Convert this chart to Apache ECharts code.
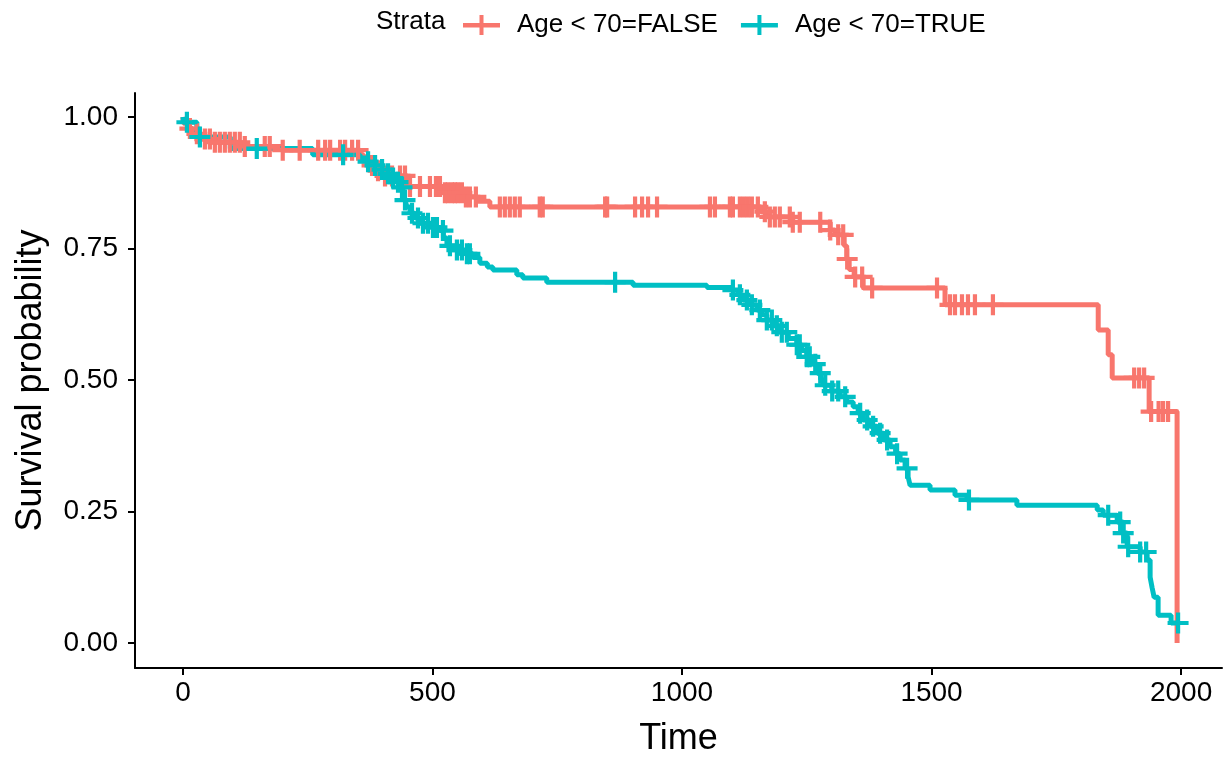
<!DOCTYPE html>
<html>
<head>
<meta charset="utf-8">
<script src="https://cdn.jsdelivr.net/npm/echarts@6/dist/echarts.min.js"></script>
<style>
  html, body { margin: 0; padding: 0; background: #ffffff; }
  #chart { width: 1226px; height: 757px; }
</style>
</head>
<body>
<div id="chart"></div>
<script>
// Kaplan-Meier estimates by stratum: [time, survival] at each step.
const stepsFalse = [
  [0, 1.0], [1, 0.988], [10, 0.978], [20, 0.968], [35, 0.958], [55, 0.952],
  [115, 0.944], [200, 0.937], [355, 0.928], [362, 0.918], [370, 0.908],
  [380, 0.898], [400, 0.888], [450, 0.868], [520, 0.856], [560, 0.848],
  [590, 0.84], [615, 0.829], [1158, 0.82], [1172, 0.81], [1222, 0.80],
  [1297, 0.785], [1307, 0.776], [1325, 0.755], [1330, 0.73], [1335, 0.71],
  [1345, 0.696], [1363, 0.675], [1527, 0.643], [1834, 0.595], [1854, 0.548],
  [1862, 0.504], [1936, 0.44], [1992, 0.0]
];
const stepsTrue = [
  [0, 1.0], [1, 0.99], [28, 0.962], [95, 0.94], [260, 0.928], [355, 0.922],
  [368, 0.915], [380, 0.908], [395, 0.9], [408, 0.892], [418, 0.884],
  [428, 0.876], [436, 0.866], [441, 0.856], [445, 0.842], [449, 0.829],
  [455, 0.817], [465, 0.808], [475, 0.798], [500, 0.79], [515, 0.784],
  [522, 0.77], [529, 0.755], [549, 0.747], [565, 0.74], [581, 0.733],
  [595, 0.722], [610, 0.715], [621, 0.709], [669, 0.70], [681, 0.694],
  [729, 0.686], [902, 0.68], [1050, 0.676], [1100, 0.671], [1112, 0.662],
  [1122, 0.652], [1136, 0.643], [1150, 0.633], [1160, 0.624], [1170, 0.614],
  [1183, 0.603], [1196, 0.591], [1213, 0.579], [1230, 0.567], [1240, 0.556],
  [1250, 0.544], [1262, 0.53], [1271, 0.513], [1278, 0.501], [1283, 0.49],
  [1300, 0.479], [1317, 0.468], [1330, 0.458], [1343, 0.449], [1353, 0.437],
  [1363, 0.424], [1377, 0.412], [1391, 0.399], [1404, 0.386], [1417, 0.373],
  [1428, 0.36], [1437, 0.348], [1447, 0.332], [1453, 0.316], [1457, 0.30],
  [1497, 0.291], [1547, 0.281], [1571, 0.272], [1671, 0.262], [1832, 0.253],
  [1844, 0.243], [1872, 0.23], [1884, 0.209], [1892, 0.183], [1918, 0.173],
  [1932, 0.158], [1938, 0.125], [1942, 0.105], [1946, 0.087], [1954, 0.053],
  [1980, 0.038], [1996, 0.038]
];

// Censoring times for each stratum.
const censorFalse = [
  14, 28, 44, 54, 64, 74, 84, 94, 104, 114, 124, 164, 174, 200, 234, 271, 285,
  295, 315, 325, 339, 351, 379, 391, 405, 419, 435, 445, 455, 475, 495, 507,
  515, 525, 531, 539, 545, 551, 559, 567, 575, 587, 635, 645, 655, 665, 675,
  715, 721, 846, 850, 906, 920, 932, 950, 1056, 1066, 1096, 1102, 1116, 1124,
  1132, 1140, 1152, 1166, 1176, 1186, 1196, 1216, 1222, 1236, 1277, 1297, 1313,
  1323, 1331, 1347, 1361, 1381, 1511, 1537, 1547, 1561, 1573, 1587, 1623,
  1906, 1916, 1926, 1940, 1955, 1964, 1974
];
const censorTrue = [
  8, 34, 148, 321, 371, 385, 399, 411, 421, 431, 439, 445, 459, 471, 481, 491,
  501, 509, 521, 535, 549, 559, 569, 575, 866, 1102, 1116, 1130, 1140, 1156,
  1170, 1180, 1190, 1200, 1210, 1230, 1236, 1250, 1256, 1267, 1277, 1287,
  1301, 1313, 1327, 1357, 1371, 1383, 1397, 1411, 1431, 1451, 1575, 1854,
  1878, 1884, 1894, 1918, 1930, 1994
];

// Axis tick values.
const xTicks = [0, 500, 1000, 1500, 2000];
const yTicks = [0, 0.25, 0.5, 0.75, 1.0];

const nameFalse = 'Age < 70=FALSE';
const nameTrue = 'Age < 70=TRUE';
const colorFalse = '#F8766D';
const colorTrue = '#00BFC4';

// Survival value of a step curve at time t.
function survivalAt(steps, t) {
  let s = steps[0][1];
  for (const [time, value] of steps) {
    if (time <= t) s = value; else break;
  }
  return s;
}

const plusSymbol = 'path://M-2,-10L2,-10L2,-2L10,-2L10,2L2,2L2,10L-2,10L-2,2L-10,2L-10,-2L-2,-2Z';
const legendIcon = 'path://M0,8L37,8L37,12.5L0,12.5Z M16.5,0L20.5,0L20.5,20L16.5,20Z';
const font = '"Liberation Sans", Arial, Helvetica, sans-serif';

const chart = echarts.init(document.getElementById('chart'), null, { renderer: 'canvas' });

chart.setOption({
  animation: false,
  backgroundColor: '#ffffff',
  graphic: [{
    type: 'text',
    left: 376,
    top: 9,
    style: { text: 'Strata', font: '26px ' + font, fill: '#000000' }
  }],
  legend: {
    left: 458,
    top: 7,
    itemWidth: 37,
    itemHeight: 20,
    itemGap: 23,
    data: [
      { name: nameFalse, icon: legendIcon, itemStyle: { color: colorFalse } },
      { name: nameTrue, icon: legendIcon, itemStyle: { color: colorTrue } }
    ],
    textStyle: { fontFamily: font, fontSize: 26, color: '#000000', padding: [0, 0, 0, 12] },
    selectedMode: false
  },
  grid: { left: 135, right: 4, top: 93, bottom: 89, containLabel: false, outerBoundsMode: 'none' },
  xAxis: {
    type: 'value',
    min: -96,
    max: 2082,
    name: 'Time',
    nameLocation: 'middle',
    nameGap: 53,
    nameTextStyle: { fontFamily: font, fontSize: 36, color: '#000000' },
    axisLine: { show: true, onZero: false, lineStyle: { color: '#000000', width: 2 } },
    axisTick: { show: true, length: 7, lineStyle: { color: '#000000', width: 2 }, customValues: xTicks },
    axisLabel: {
      fontFamily: font, fontSize: 28, color: '#000000', margin: 11,
      customValues: xTicks,
      formatter: v => String(v)
    },
    splitLine: { show: false }
  },
  yAxis: {
    type: 'value',
    min: -0.0475,
    max: 1.0456,
    name: 'Survival probability',
    nameLocation: 'middle',
    nameGap: 86,
    nameTextStyle: { fontFamily: font, fontSize: 36, color: '#000000' },
    axisLine: { show: true, onZero: false, lineStyle: { color: '#000000', width: 2 } },
    axisTick: { show: true, length: 7, lineStyle: { color: '#000000', width: 2 }, customValues: yTicks },
    axisLabel: {
      fontFamily: font, fontSize: 28, color: '#000000', margin: 17,
      customValues: yTicks,
      formatter: v => v.toFixed(2)
    },
    splitLine: { show: false }
  },
  series: [
    {
      name: nameFalse, type: 'line', step: 'end', data: stepsFalse,
      showSymbol: false, lineStyle: { color: colorFalse, width: 5 },
      itemStyle: { color: colorFalse }, z: 2
    },
    {
      name: nameTrue, type: 'line', step: 'end', data: stepsTrue,
      showSymbol: false, lineStyle: { color: colorTrue, width: 5 },
      itemStyle: { color: colorTrue }, z: 3
    },
    {
      name: nameFalse, type: 'scatter', symbol: plusSymbol, symbolSize: 21,
      data: censorFalse.map(t => [t, survivalAt(stepsFalse, t)]),
      itemStyle: { color: colorFalse, opacity: 1 }, z: 4
    },
    {
      name: nameTrue, type: 'scatter', symbol: plusSymbol, symbolSize: 21,
      data: censorTrue.map(t => [t, survivalAt(stepsTrue, t)]),
      itemStyle: { color: colorTrue, opacity: 1 }, z: 5
    }
  ]
});
</script>
</body>
</html>
